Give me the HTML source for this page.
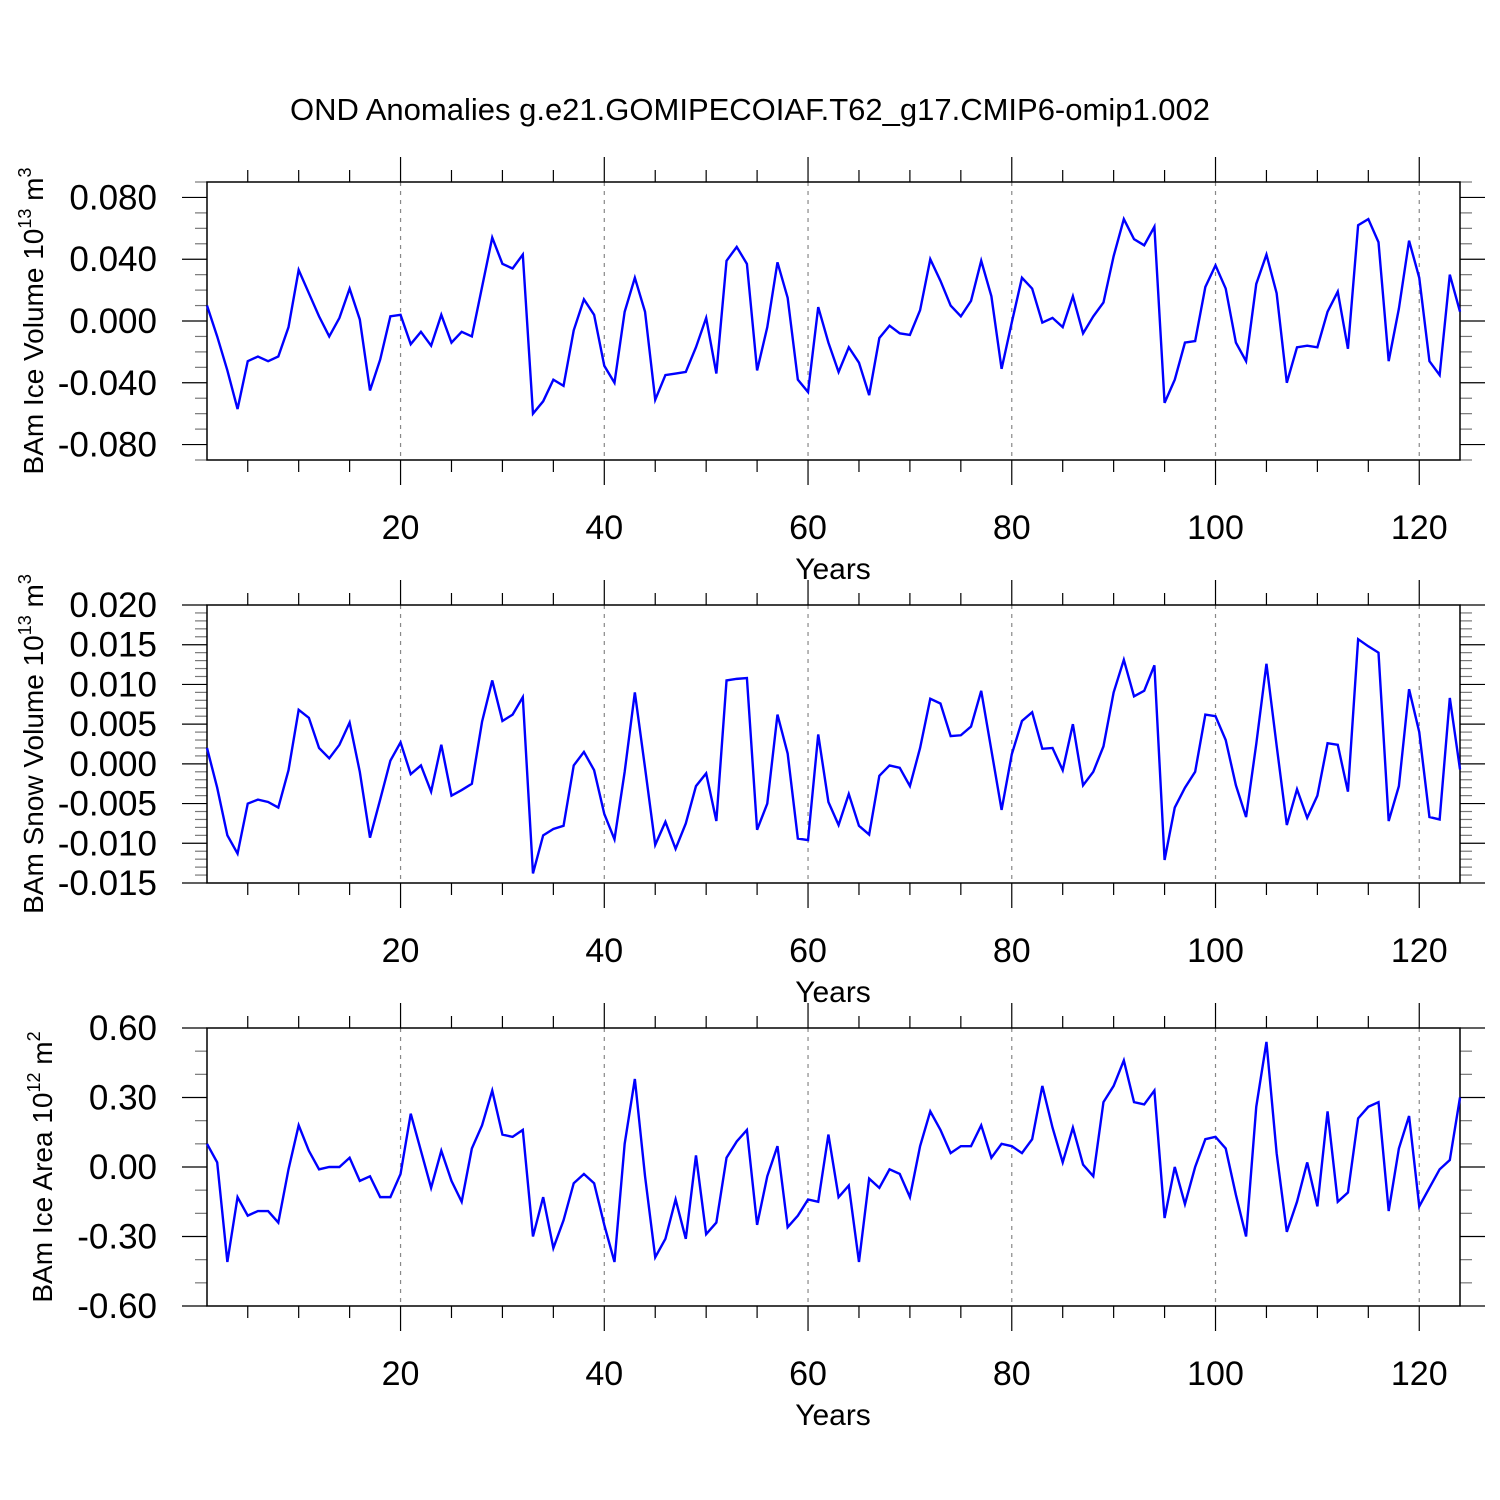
<!DOCTYPE html>
<html><head><meta charset="utf-8"><style>
html,body{margin:0;padding:0;background:#fff;}
svg{display:block;font-family:"Liberation Sans",sans-serif;}
</style></head><body>
<svg id="chart" width="1500" height="1500" viewBox="0 0 1500 1500" xmlns="http://www.w3.org/2000/svg">
<text x="750" y="120" text-anchor="middle" font-size="31">OND Anomalies g.e21.GOMIPECOIAF.T62_g17.CMIP6-omip1.002</text>
</svg>
<script>
const iceVolume = [0.010,-0.010,-0.032,-0.057,-0.026,-0.023,-0.026,-0.023,-0.004,0.033,0.018,0.003,-0.010,0.002,0.021,0.001,-0.045,-0.025,0.003,0.004,-0.015,-0.007,-0.016,0.004,-0.014,-0.007,-0.010,0.022,0.054,0.037,0.034,0.043,-0.060,-0.052,-0.038,-0.042,-0.006,0.014,0.004,-0.029,-0.040,0.006,0.028,0.006,-0.051,-0.035,-0.034,-0.033,-0.017,0.002,-0.034,0.039,0.048,0.037,-0.032,-0.004,0.038,0.015,-0.038,-0.046,0.009,-0.014,-0.033,-0.017,-0.027,-0.048,-0.011,-0.003,-0.008,-0.009,0.007,0.040,0.026,0.010,0.003,0.013,0.039,0.016,-0.031,-0.001,0.028,0.021,-0.001,0.002,-0.004,0.016,-0.008,0.003,0.012,0.042,0.066,0.053,0.049,0.061,-0.053,-0.038,-0.014,-0.013,0.022,0.036,0.021,-0.014,-0.026,0.024,0.043,0.018,-0.040,-0.017,-0.016,-0.017,0.006,0.019,-0.018,0.062,0.066,0.051,-0.026,0.008,0.052,0.028,-0.026,-0.035,0.030,0.006];
const snowVolume = [0.002,-0.003,-0.009,-0.0113,-0.005,-0.0045,-0.0048,-0.0055,-0.0008,0.0068,0.0058,0.002,0.0007,0.0024,0.0052,-0.001,-0.0093,-0.0045,0.0004,0.0027,-0.0013,-0.0002,-0.0035,0.0024,-0.004,-0.0033,-0.0025,0.0053,0.0105,0.0054,0.0062,0.0084,-0.0138,-0.009,-0.0082,-0.0078,-0.0002,0.0015,-0.0008,-0.0063,-0.0095,-0.001,0.009,-0.0005,-0.0102,-0.0073,-0.0107,-0.0075,-0.0028,-0.0012,-0.0072,0.0105,0.0107,0.0108,-0.0083,-0.005,0.0062,0.0013,-0.0094,-0.0096,0.0037,-0.0048,-0.0077,-0.0038,-0.0078,-0.0089,-0.0015,-0.0002,-0.0005,-0.0028,0.002,0.0082,0.0076,0.0035,0.0036,0.0047,0.0092,0.0017,-0.0058,0.0012,0.0054,0.0065,0.0019,0.002,-0.0008,0.005,-0.0027,-0.001,0.0022,0.009,0.0131,0.0085,0.0092,0.0124,-0.0121,-0.0055,-0.003,-0.001,0.0062,0.006,0.003,-0.0027,-0.0067,0.0025,0.0126,0.0023,-0.0077,-0.0032,-0.0068,-0.004,0.0026,0.0024,-0.0035,0.0157,0.0148,0.014,-0.0072,-0.0028,0.0094,0.004,-0.0067,-0.007,0.0083,-0.0007];
const iceArea = [0.10,0.02,-0.41,-0.13,-0.21,-0.19,-0.19,-0.24,-0.01,0.18,0.07,-0.01,0.00,0.00,0.04,-0.06,-0.04,-0.13,-0.13,-0.03,0.23,0.07,-0.09,0.07,-0.06,-0.15,0.08,0.18,0.33,0.14,0.13,0.16,-0.30,-0.13,-0.35,-0.23,-0.07,-0.03,-0.07,-0.25,-0.41,0.10,0.38,-0.04,-0.39,-0.31,-0.14,-0.31,0.05,-0.29,-0.24,0.04,0.11,0.16,-0.25,-0.04,0.09,-0.26,-0.21,-0.14,-0.15,0.14,-0.13,-0.08,-0.41,-0.05,-0.09,-0.01,-0.03,-0.13,0.09,0.24,0.16,0.06,0.09,0.09,0.18,0.04,0.10,0.09,0.06,0.12,0.35,0.17,0.02,0.17,0.01,-0.04,0.28,0.35,0.46,0.28,0.27,0.33,-0.22,0.00,-0.16,0.00,0.12,0.13,0.08,-0.12,-0.30,0.26,0.54,0.06,-0.28,-0.15,0.02,-0.17,0.24,-0.15,-0.11,0.21,0.26,0.28,-0.19,0.08,0.22,-0.17,-0.09,-0.01,0.03,0.30];
const xTicks = [20,40,60,80,100,120];
const tick1 = ["0.080","0.040","0.000","-0.040","-0.080"];
const tick2 = ["0.020","0.015","0.010","0.005","0.000","-0.005","-0.010","-0.015"];
const tick3 = ["0.60","0.30","0.00","-0.30","-0.60"];

const svg = document.getElementById('chart');
const NS = 'http://www.w3.org/2000/svg';
const L = 207, R = 1460, XMIN = 1, XMAX = 124;
function xs(v){ return L + (v - XMIN) * (R - L) / (XMAX - XMIN); }
function mk(tag, attrs, parent){ const e = document.createElementNS(NS, tag); for (const k in attrs) e.setAttribute(k, attrs[k]); (parent||svg).appendChild(e); return e; }

const panels = [
 {top:182, bot:460, min:-0.09, max:0.09, data:iceVolume, ticks:tick1, major:0.04, minor:0.01, title:"BAm Ice Volume 10", exp:"13", unit:" m", uexp:"3", name:"ice-volume", tx:43},
 {top:605, bot:883, min:-0.015, max:0.020, data:snowVolume, ticks:tick2, major:0.005, minor:0.001, title:"BAm Snow Volume 10", exp:"13", unit:" m", uexp:"3", name:"snow-volume", tx:43},
 {top:1028, bot:1306, min:-0.6, max:0.6, data:iceArea, ticks:tick3, major:0.3, minor:0.1, title:"BAm Ice Area 10", exp:"12", unit:" m", uexp:"2", name:"ice-area", tx:52}
];

panels.forEach(p => {
  const g = mk('g', {});
  
  
  const ys = v => p.bot - (v - p.min) * (p.bot - p.top) / (p.max - p.min);
  xTicks.forEach(t => {
    const gl = mk('line', {x1:xs(t), x2:xs(t), y1:p.top, y2:p.bot, stroke:'#888', 'stroke-width':1.2, 'stroke-dasharray':'4,5'}, g);
    
    
  });
  for (let t = 5; t <= 120; t += 5) {
    const len = (t % 20 === 0) ? 25 : 12;
    mk('line', {x1:xs(t), x2:xs(t), y1:p.top, y2:p.top-len, stroke:'#000', 'stroke-width':1.2}, g);
    mk('line', {x1:xs(t), x2:xs(t), y1:p.bot, y2:p.bot+len, stroke:'#000', 'stroke-width':1.2}, g);
  }
  xTicks.forEach(t => {
    const tx = mk('text', {x:xs(t), y:p.bot+79, 'text-anchor':'middle', 'font-size':34}, g);
    
    
    tx.textContent = String(t);
  });
  const xt = mk('text', {x:833, y:p.bot+119, 'text-anchor':'middle', 'font-size':30}, g);
  
  
  xt.textContent = 'Years';
  const nMin = Math.round((p.max - p.min) / p.minor);
  for (let i = 0; i <= nMin; i++) {
    const v = p.min + i * p.minor;
    const isMaj = Math.abs(v / p.major - Math.round(v / p.major)) < 1e-6;
    const len = isMaj ? 25 : 12;
    mk('line', {x1:L, x2:L-len, y1:ys(v), y2:ys(v), stroke:isMaj?'#000':'#777', 'stroke-width':1.2}, g);
    mk('line', {x1:R, x2:R+len, y1:ys(v), y2:ys(v), stroke:isMaj?'#000':'#777', 'stroke-width':1.2}, g);
  }
  p.ticks.forEach(s => {
    const v = parseFloat(s);
    const tx = mk('text', {x:157, y:ys(v)+12, 'text-anchor':'end', 'font-size':35}, g);
    
    
    tx.textContent = s;
  });
  const cy = (p.top + p.bot) / 2;
  const yt = mk('text', {x:0, y:0, 'text-anchor':'middle', 'font-size':28, transform:`translate(${p.tx},${cy}) rotate(-90)`}, g);
  
  
  yt.innerHTML = `${p.title}<tspan font-size="18" dy="-12">${p.exp}</tspan><tspan dy="12">${p.unit}</tspan><tspan font-size="18" dy="-12">${p.uexp}</tspan>`;
  const fr = mk('rect', {x:L, y:p.top, width:R-L, height:p.bot-p.top, fill:'none', stroke:'#000', 'stroke-width':1.5}, g);
  
  
  const pts = p.data.map((v, i) => xs(i + 1).toFixed(2) + ',' + ys(v).toFixed(2)).join(' ');
  const pl = mk('polyline', {points:pts, fill:'none', stroke:'#0000ff', 'stroke-width':2.4, 'stroke-linejoin':'miter'}, g);
  
  
});
</script>
</body></html>
